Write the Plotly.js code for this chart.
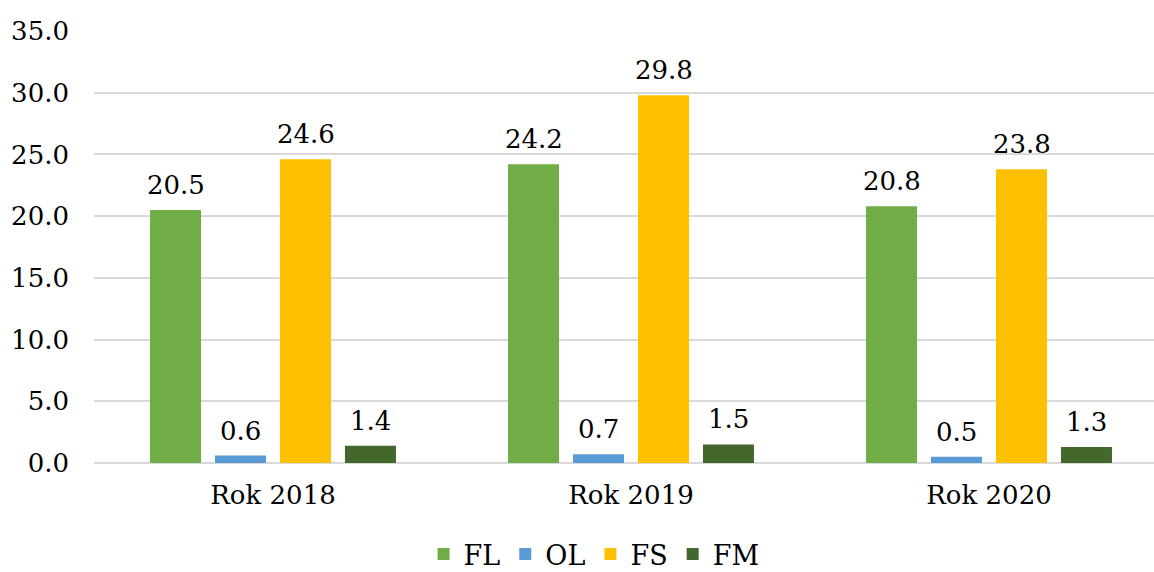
<!DOCTYPE html>
<html>
<head>
<meta charset="utf-8">
<script src="https://cdn.plot.ly/plotly-3.0.1.min.js"></script>
<style>
html,body{margin:0;padding:0;overflow:hidden;background:#fff;}
#chart{width:1168px;height:572px;}
</style>
</head>
<body>
<div id="chart"></div>
<script>
const categories = ["Rok 2018", "Rok 2019", "Rok 2020"];
const seriesNames = ["FL", "OL", "FS", "FM"];
const FL = [20.5, 24.2, 20.8];
const OL = [0.6, 0.7, 0.5];
const FS = [24.6, 29.8, 23.8];
const FM = [1.4, 1.5, 1.3];
const colors = ["#70AD47", "#5B9BD5", "#FFC000", "#43682B"];
const values = [FL, OL, FS, FM];

const font = "DejaVu Serif";
const traces = seriesNames.map((n, i) => ({
  type: "bar",
  name: n,
  x: categories,
  y: values[i],
  marker: {color: colors[i]},
  hoverinfo: "skip"
}));

const slotPx = 65;
const annotations = [];
seriesNames.forEach((n, i) => {
  categories.forEach((c, j) => {
    annotations.push({
      x: c, y: values[i][j], xref: "x", yref: "y",
      text: values[i][j].toFixed(1),
      showarrow: false,
      xanchor: "center", yanchor: "bottom",
      xshift: (i - 1.5) * slotPx,
      yshift: 8,
      font: {family: font, size: 26, color: "#000"}
    });
  });
});

const layout = {
  width: 1168,
  height: 572,
  margin: {l: 94, r: 0, t: 31, b: 109, autoexpand: false},
  paper_bgcolor: "#fff",
  plot_bgcolor: "#fff",
  barmode: "group",
  bargap: 0.274,
  bargroupgap: 0.215,
  font: {family: font, size: 26, color: "#000"},
  annotations: annotations,
  xaxis: {
    showgrid: false,
    ticks: "",
    tickfont: {family: font, size: 26, color: "#000"},
    ticklabelstandoff: 14,
    showline: false,
    zeroline: false
  },
  yaxis: {
    range: [0, 35],
    dtick: 5,
    tick0: 0,
    tickformat: ".1f",
    showgrid: true,
    gridcolor: "#D9D9D9",
    gridwidth: 2,
    zeroline: true,
    zerolinecolor: "#D9D9D9",
    zerolinewidth: 2,
    ticks: "",
    ticklabelstandoff: 24,
    tickfont: {family: font, size: 26, color: "#000"},
    fixedrange: true
  },
  showlegend: true,
  legend: {
    orientation: "h",
    x: 0.4656,
    xanchor: "center",
    y: -0.155,
    yanchor: "top",
    font: {family: font, size: 27, color: "#000"},
    itemwidth: 30,
    traceorder: "normal"
  }
};

Plotly.newPlot("chart", traces, layout, {displayModeBar: false, staticPlot: true});
</script>
</body>
</html>
